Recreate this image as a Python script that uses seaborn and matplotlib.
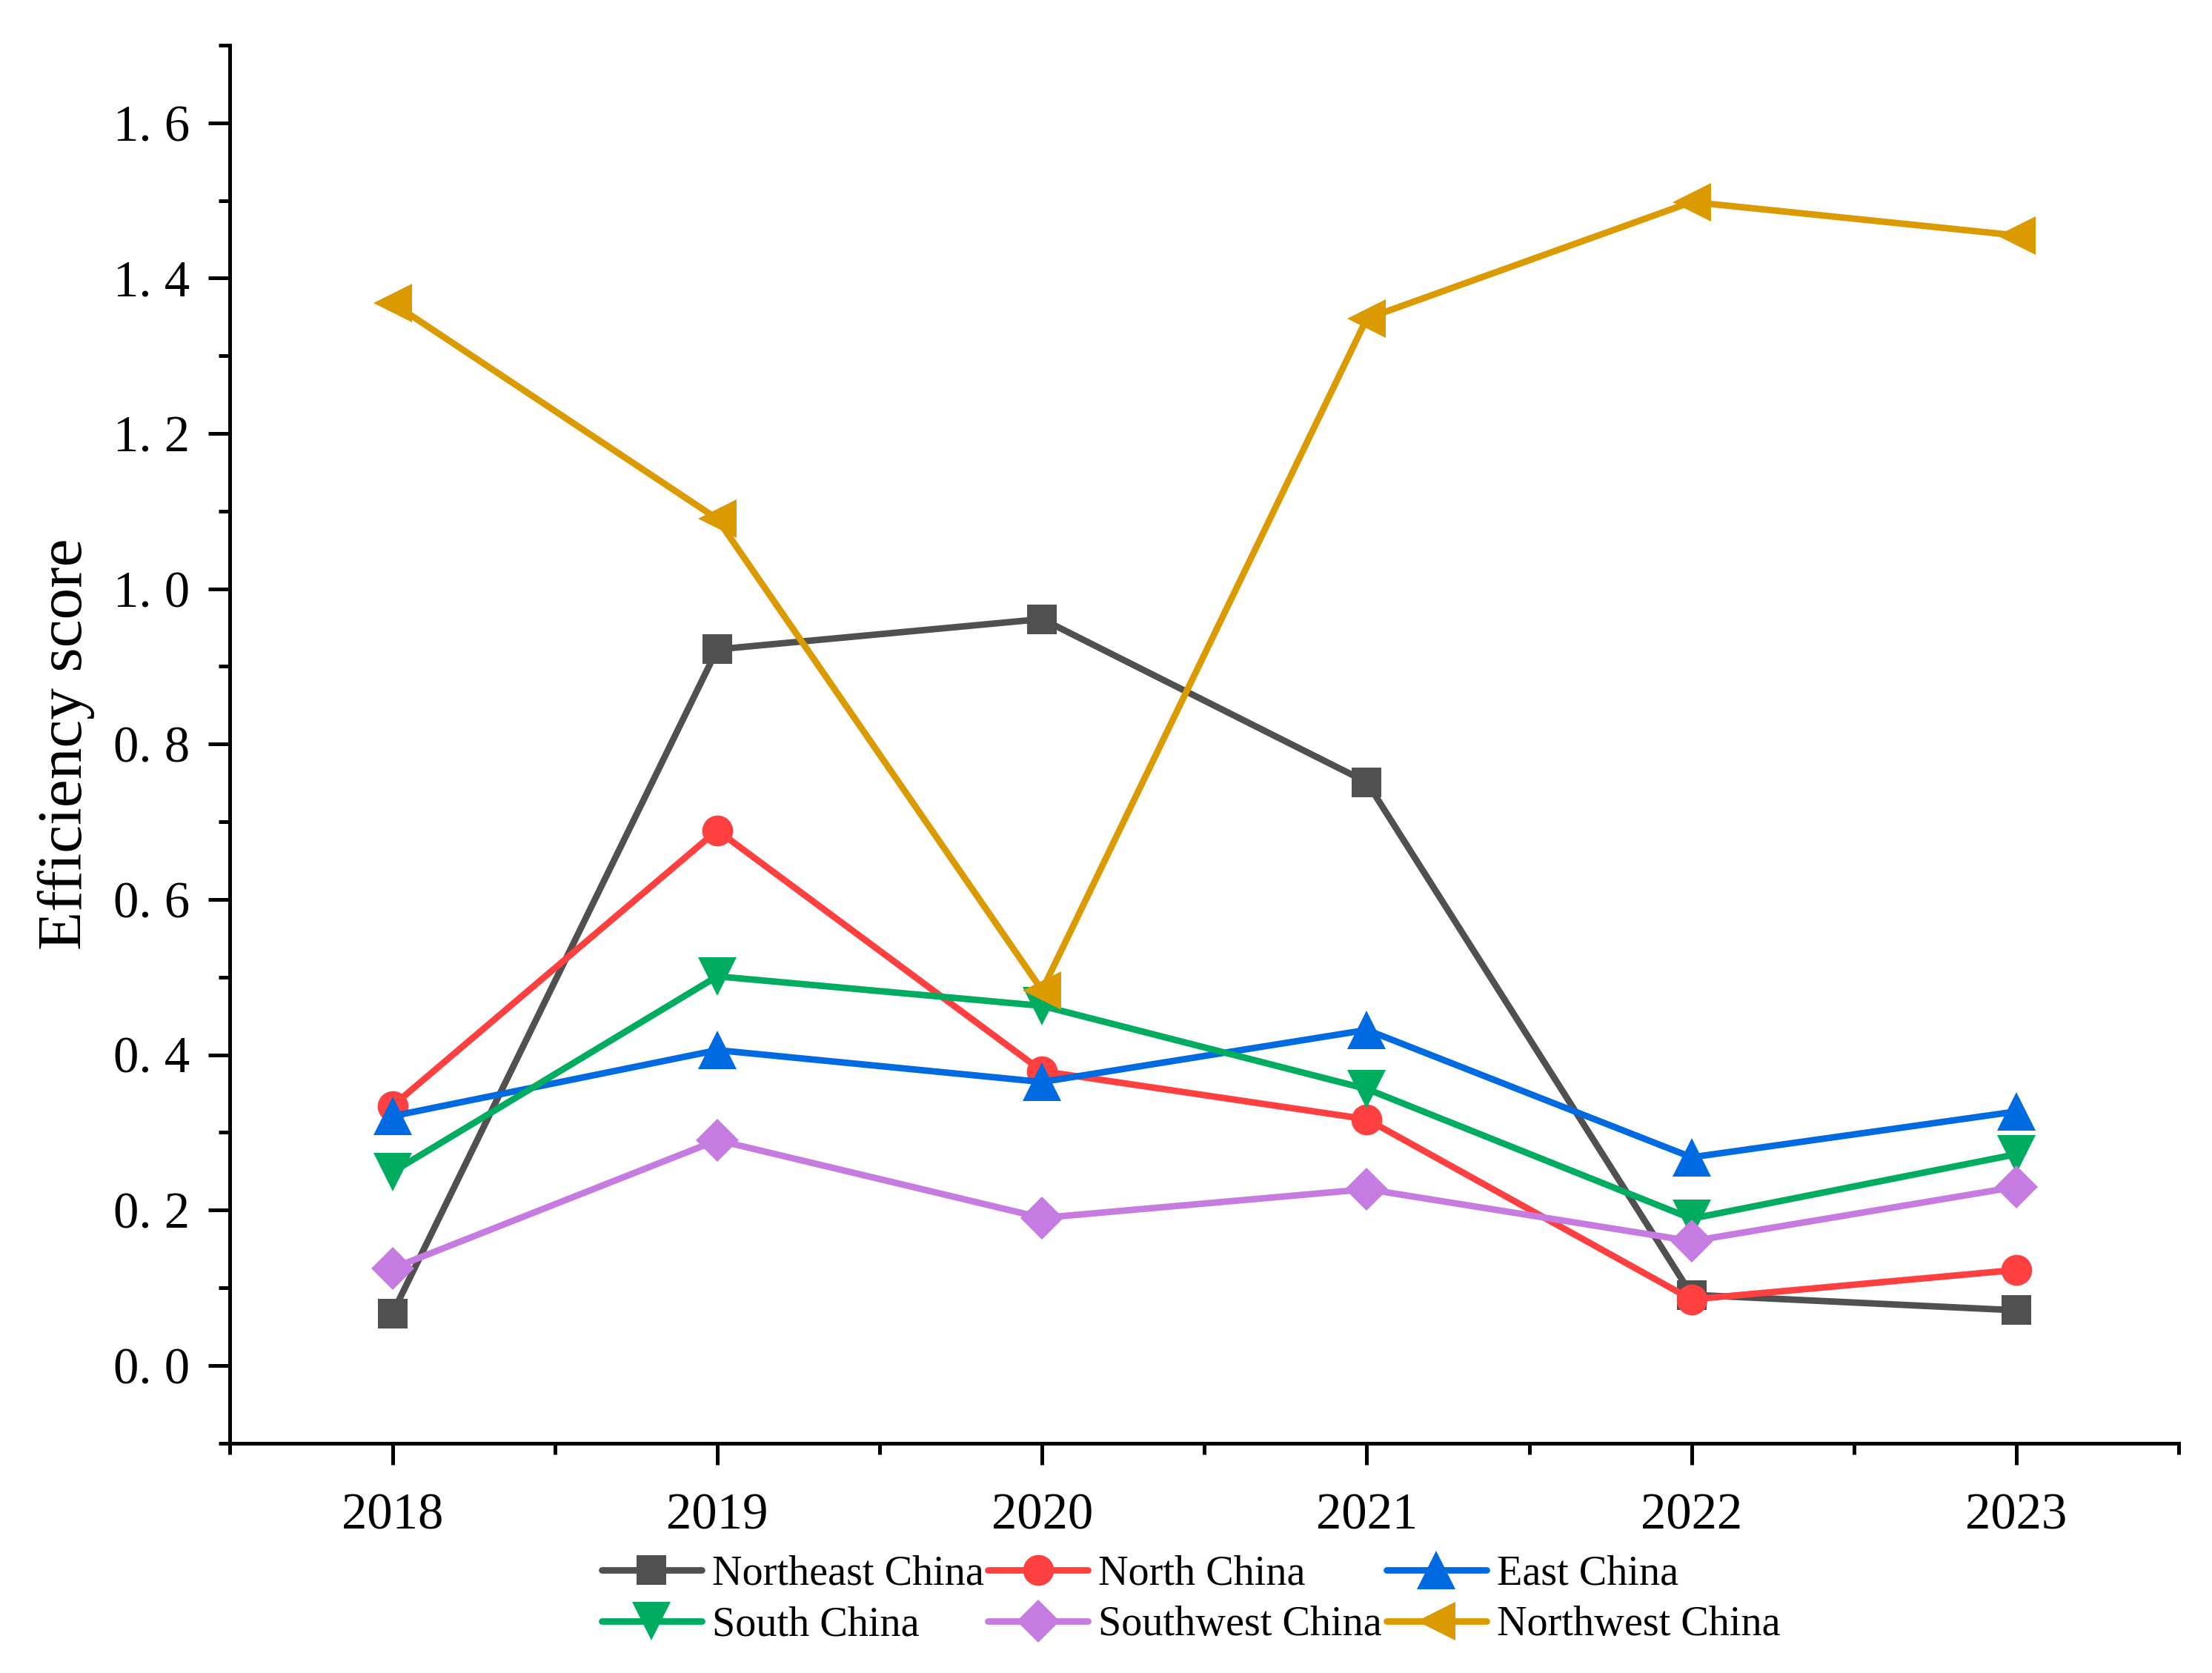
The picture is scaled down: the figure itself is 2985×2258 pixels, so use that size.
import numpy as np
import pandas as pd
import seaborn as sns
import matplotlib.pyplot as plt
from matplotlib.ticker import MultipleLocator, FuncFormatter

years = [2018, 2019, 2020, 2021, 2022, 2023]
northeast = [0.067, 0.922, 0.961, 0.751, 0.091, 0.071]
north = [0.334, 0.689, 0.379, 0.317, 0.085, 0.123]
east = [0.321, 0.406, 0.365, 0.432, 0.268, 0.327]
south = [0.249, 0.501, 0.463, 0.356, 0.189, 0.272]
southwest = [0.125, 0.290, 0.190, 0.227, 0.160, 0.230]
northwest = [1.368, 1.090, 0.483, 1.348, 1.498, 1.455]

regions = ['Northeast China', 'North China', 'East China',
           'South China', 'Southwest China', 'Northwest China']
colors = ['#505050', '#FF4040', '#006BE0', '#00AC60', '#C67BE0', '#DB9A00']
markers = ['s', 'o', '^', 'v', 'D', '<']
msizes = {'s': 9.5, 'o': 10, '^': 12.5, 'v': 12.5, 'D': 10, '<': 12.5}

df = pd.DataFrame({
    'year': years * 6,
    'score': northeast + north + east + south + southwest + northwest,
    'region': np.repeat(regions, len(years)),
})

sns.set_style('ticks')
plt.rcParams['font.family'] = ['Liberation Serif', 'DejaVu Serif']
plt.rcParams['text.color'] = 'black'
plt.rcParams['axes.labelcolor'] = 'black'
plt.rcParams['axes.edgecolor'] = 'black'
plt.rcParams['xtick.color'] = 'black'
plt.rcParams['ytick.color'] = 'black'

fig = plt.figure(figsize=(9.95, 7.527), dpi=300)
ax = fig.add_axes([0.104, 0.1374, 0.881, 0.8356])

sns.lineplot(data=df, x='year', y='score', hue='region', style='region',
             palette=dict(zip(regions, colors)), markers=dict(zip(regions, markers)),
             dashes=False, linewidth=2.1, markersize=10, markeredgewidth=0,
             ax=ax)

# bigger triangles, like the original
for ln in ax.lines:
    m = ln.get_marker()
    if m in msizes:
        ln.set_markersize(msizes[m])

ax.set_xlim(2017.5, 2023.5)
ax.set_ylim(-0.1, 1.7)
ax.xaxis.set_major_locator(MultipleLocator(1))
ax.xaxis.set_minor_locator(MultipleLocator(0.5))
ax.yaxis.set_major_locator(MultipleLocator(0.2))
ax.yaxis.set_minor_locator(MultipleLocator(0.1))
ax.yaxis.set_major_formatter(FuncFormatter(lambda v, p: f'{v:.1f}'.replace('.', '. ').replace('-0. 0', '0. 0')))

sns.despine(ax=ax)
for s in ['left', 'bottom']:
    ax.spines[s].set_linewidth(1.2)
ax.tick_params(which='major', length=7, width=1.2, labelsize=16.5, direction='out')
ax.tick_params(which='minor', length=3.5, width=1.2, direction='out')
ax.tick_params(axis='x', pad=9)
ax.tick_params(axis='y', pad=6)

ax.set_xlabel('')
ax.set_ylabel('Efficiency score', fontsize=20.5, labelpad=6)

handles, labels = ax.get_legend_handles_labels()
order = [0, 3, 1, 4, 2, 5]
leg = ax.legend([handles[i] for i in order], [labels[i] for i in order],
                ncol=3, frameon=False, fontsize=13.5, loc='upper center',
                bbox_to_anchor=(0.493, -0.053), handlelength=2.4, handletextpad=0.25,
                columnspacing=0.1, labelspacing=0.3)
for h in leg.legend_handles:
    m = h.get_marker()
    if m in msizes:
        h.set_markersize(msizes[m])

fig.savefig('out.png', dpi=300)
